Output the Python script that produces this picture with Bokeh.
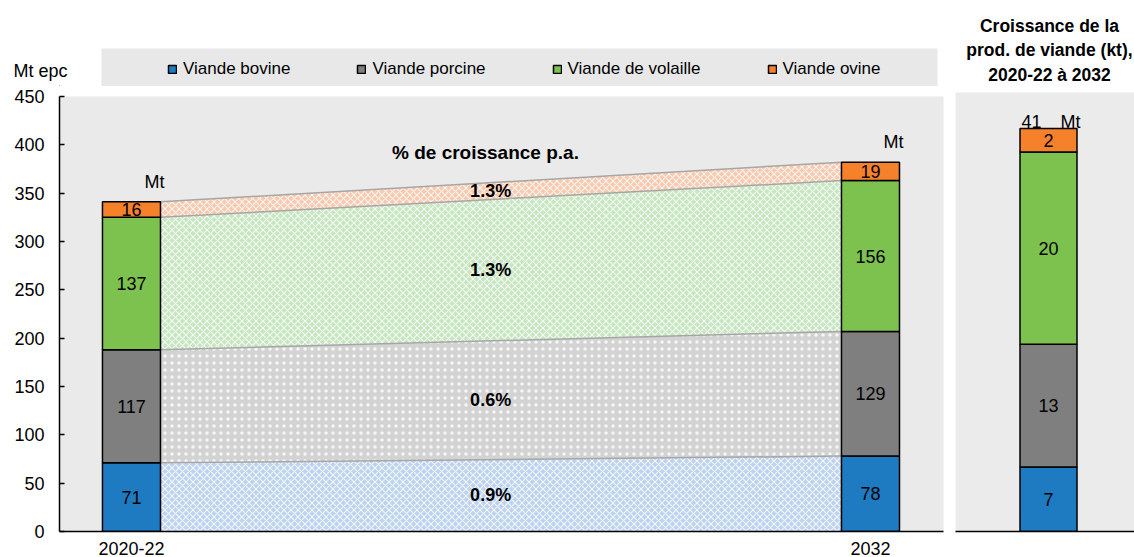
import numpy as np
from bokeh.plotting import figure
from bokeh.models import Range1d, FixedTicker, Legend, LegendItem, Label, BoxAnnotation
from bokeh.layouts import row, column
from bokeh.embed import file_html
from bokeh.resources import INLINE
from bokeh.core.properties import value

# ---------------- data ----------------
periods = ["2020-22", "2032"]
meats = ["Viande bovine", "Viande porcine", "Viande de volaille", "Viande ovine"]
prod_2020_22 = [71, 117, 137, 16]
prod_2032 = [78, 129, 156, 19]
growth_pa = [0.9, 0.6, 1.3, 1.3]
growth_kt = [6.6, 12.6, 19.7, 2.4]
y_ticks = [0, 50, 100, 150, 200, 250, 300, 350, 400, 450]
y_unit = "Mt epc"
title_lines = ["Croissance de la", "prod. de viande (kt),", "2020-22 à 2032"]

# ---------------- style ----------------
colors = ["#1f7bc1", "#7f7f7f", "#7dc24f", "#f5812a"]
band_colors = ["#bcd2f0", "#d3d3d3", "#c6e6bf", "#f8c9ae"]
band_hatch = ["diagonal_cross", "dot", "diagonal_cross", "diagonal_cross"]
FONT = "Liberation Sans"
TOP_H = 86          # height of the strip holding the legend
MAIN_H = 557 - TOP_H
BOTTOM = 26
LEFT = 59
RIGHT = 2

xpos = [0, 1]
bw = 0.0785

# ---------------- legend strip (y measured upward from strip bottom) ----------------
leg = figure(width=945, height=TOP_H, x_range=Range1d(LEFT, 945 - RIGHT), y_range=Range1d(0, TOP_H),
             x_axis_type=None, output_backend="svg", toolbar_location=None,
             min_border_left=LEFT, min_border_right=RIGHT, min_border_top=0, min_border_bottom=0)
leg.outline_line_color = None
leg.grid.visible = False
leg.background_fill_color = "white"
leg.border_fill_color = "white"
leg.yaxis.ticker = FixedTicker(ticks=[TOP_H - 70], minor_ticks=[])
leg.yaxis.major_label_overrides = {TOP_H - 70: y_unit}
leg.yaxis.axis_line_color = None
leg.yaxis.major_tick_line_color = None
leg.yaxis.minor_tick_line_color = None
leg.yaxis.major_tick_in = 0
leg.yaxis.major_tick_out = 0
leg.yaxis.minor_tick_in = 0
leg.yaxis.minor_tick_out = 0
leg.yaxis.major_label_standoff = -8
leg.yaxis.major_label_text_font = FONT
leg.yaxis.major_label_text_font_size = "18px"
leg.yaxis.major_label_text_color = "black"
leg.add_layout(BoxAnnotation(left=101, right=937, top=TOP_H - 48, bottom=0,
                             fill_color="#e8e8e8", fill_alpha=1, line_color=None))
leg_renderers = [leg.vbar(x=[-500], bottom=[-500], top=[-499], width=1, fill_color=c,
                          line_color="black", line_width=1.5) for c in colors]
legend = Legend(items=[LegendItem(label=m, renderers=[r]) for m, r in zip(meats, leg_renderers)],
                orientation="horizontal", location=(167 - LEFT, TOP_H - 79),
                spacing=66, padding=0, margin=0, glyph_width=10, glyph_height=10,
                label_standoff=6, label_height=20, background_fill_alpha=0,
                border_line_color=None, label_text_font=FONT, label_text_font_size="17px",
                label_text_color="black")
leg.add_layout(legend)

# ---------------- main panel ----------------
p = figure(width=945, height=MAIN_H, x_range=Range1d(-0.0974, 1.0988), y_range=Range1d(0, 450),
           output_backend="svg", toolbar_location=None,
           min_border_left=LEFT, min_border_right=RIGHT, min_border_top=96 - TOP_H,
           min_border_bottom=BOTTOM)
p.background_fill_color = "#eaeaea"
p.border_fill_color = "white"
p.outline_line_color = None
p.grid.visible = False

lo20 = np.concatenate([[0], np.cumsum(prod_2020_22)[:-1]])
hi20 = np.cumsum(prod_2020_22)
lo32 = np.concatenate([[0], np.cumsum(prod_2032)[:-1]])
hi32 = np.cumsum(prod_2032)

x_in = xpos[0] + bw / 2
x_out = xpos[1] - bw / 2
for i in range(4):
    p.varea(x=[x_in, x_out], y1=[lo20[i], lo32[i]], y2=[hi20[i], hi32[i]],
            fill_color=band_colors[i], hatch_pattern=band_hatch[i], hatch_color="white",
            hatch_alpha=0.8, hatch_scale=7, hatch_weight=1.2)
for i in range(4):
    p.line(x=[x_in, x_out], y=[hi20[i], hi32[i]], line_color="#a6a6a6", line_width=1.5)

for i in range(4):
    p.vbar(x=xpos, bottom=[lo20[i], lo32[i]], top=[hi20[i], hi32[i]], width=bw,
           fill_color=colors[i], line_color="black", line_width=1.5)

for i in range(4):
    p.text(x=xpos, y=[(lo20[i] + hi20[i]) / 2, (lo32[i] + hi32[i]) / 2],
           text=[str(prod_2020_22[i]), str(prod_2032[i])],
           text_align="center", text_baseline="middle", text_font=value(FONT),
           text_font_size="18px", text_color="black")

mid_x = 0.486
band_mid = [((lo20[i] + lo32[i]) / 2 + (hi20[i] + hi32[i]) / 2) / 2 for i in range(4)]
p.text(x=[mid_x] * 4, y=band_mid, text=[f"{g:.1f}%" for g in growth_pa],
       text_align="center", text_baseline="middle", text_font=value(FONT),
       text_font_size="18px", text_font_style="bold", text_color="black")

p.add_layout(Label(x=0.479, y=392, text="% de croissance p.a.", text_align="center",
                   text_baseline="middle", text_font=FONT, text_font_size="19px",
                   text_font_style="bold", text_color="black"))

p.text(x=xpos, y=[hi20[-1], hi32[-1]], text=["Mt", "Mt"], x_offset=23, y_offset=-20,
       text_align="center", text_baseline="alphabetic", text_font=value(FONT),
       text_font_size="18px", text_color="black")

p.yaxis.ticker = FixedTicker(ticks=y_ticks)
p.yaxis.major_tick_in = 5
p.yaxis.major_tick_out = 0
p.yaxis.minor_tick_line_color = None
p.yaxis.axis_line_width = 1.5
p.yaxis.major_tick_line_width = 1.5
p.yaxis.major_label_standoff = 15
p.yaxis.major_label_text_font = FONT
p.yaxis.major_label_text_font_size = "18px"
p.yaxis.major_label_text_color = "black"

p.xaxis.ticker = FixedTicker(ticks=xpos)
p.xaxis.major_label_overrides = {xpos[i]: periods[i] for i in range(2)}
p.xaxis.major_tick_line_color = None
p.xaxis.minor_tick_line_color = None
p.xaxis.axis_line_width = 1.5
p.xaxis.major_label_standoff = 4
p.xaxis.major_label_text_font = FONT
p.xaxis.major_label_text_font_size = "18px"
p.xaxis.major_label_text_color = "black"

# ---------------- right panel title strip ----------------
TT_H = 88
tt = figure(width=189, height=TT_H, x_range=Range1d(955, 1134), y_range=Range1d(TT_H, 0),
            x_axis_type=None, y_axis_type=None, output_backend="svg", toolbar_location=None,
            min_border_left=10, min_border_right=0, min_border_top=0, min_border_bottom=0)
tt.outline_line_color = None
tt.grid.visible = False
tt.background_fill_color = "white"
tt.border_fill_color = "white"
for k, t in enumerate(title_lines):
    tt.add_layout(Label(x=1049, y=25 + 24.5 * k, text=t, text_align="center",
                        text_baseline="middle", text_font=FONT, text_font_size="17.5px",
                        text_font_style="bold", text_color="black"))

# ---------------- right panel ----------------
p2 = figure(width=189, height=557 - TT_H, x_range=Range1d(-1.632, 1.509), y_range=Range1d(0, 45),
            output_backend="svg", toolbar_location=None,
            min_border_left=10, min_border_right=0, min_border_top=92 - TT_H,
            min_border_bottom=BOTTOM)
p2.background_fill_color = "#ebebeb"
p2.border_fill_color = "white"
p2.outline_line_color = None
p2.grid.visible = False

glo = np.concatenate([[0], np.cumsum(growth_kt)[:-1]])
ghi = np.cumsum(growth_kt)
p2.vbar(x=[0] * 4, bottom=glo, top=ghi, width=1, fill_color=colors,
        line_color="black", line_width=1.5)
p2.text(x=[0] * 4, y=(glo + ghi) / 2, text=[f"{v:.0f}" for v in growth_kt],
        text_align="center", text_baseline="middle", text_font=value(FONT),
        text_font_size="18px", text_color="black")
p2.text(x=[0], y=[ghi[-1]], text=[f"{ghi[-1]:.0f}"], x_offset=-17, y_offset=-7,
        text_align="center", text_baseline="alphabetic", text_font=value(FONT),
        text_font_size="18px", text_color="black")
p2.text(x=[0], y=[ghi[-1]], text=["Mt"], x_offset=22, y_offset=-7,
        text_align="center", text_baseline="alphabetic", text_font=value(FONT),
        text_font_size="18px", text_color="black")

p2.yaxis.visible = False
p2.xaxis.ticker = FixedTicker(ticks=[])
p2.xaxis.minor_tick_line_color = None
p2.xaxis.axis_line_width = 1.5

layout = row(column(leg, p), column(tt, p2))
open("out.html", "w").write(file_html(layout, INLINE))
